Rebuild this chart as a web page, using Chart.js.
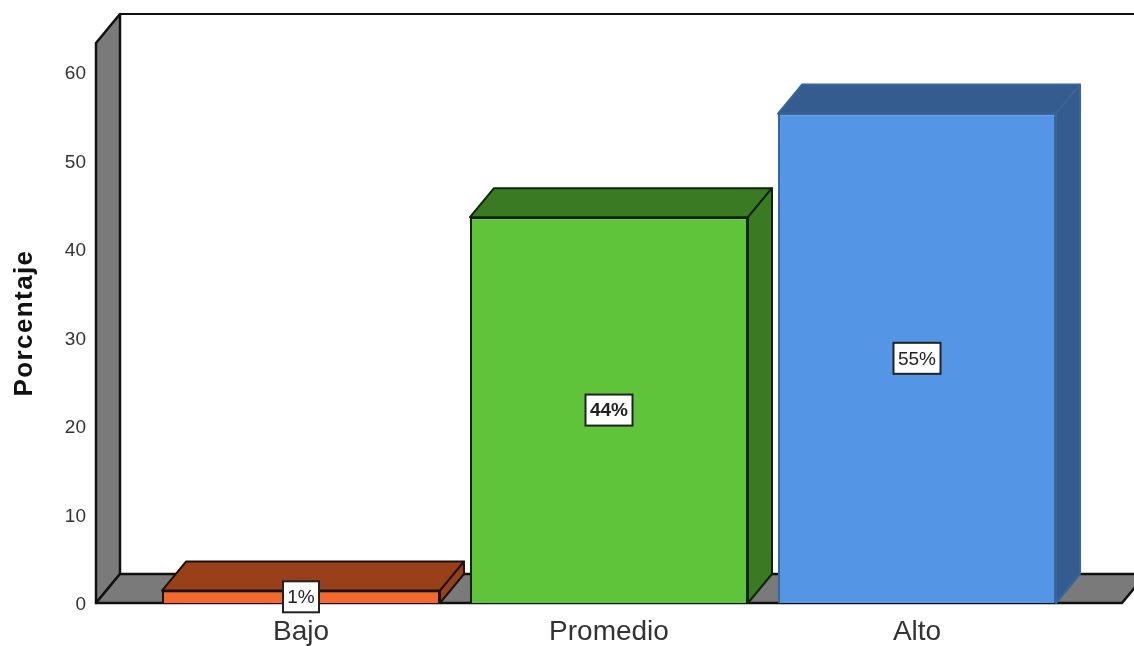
<!DOCTYPE html>
<html>
<head>
<meta charset="utf-8">
<title>Porcentaje</title>
<script src="https://cdn.jsdelivr.net/npm/chart.js@4"></script>
<style>
    html, body { margin: 0; padding: 0; background: #fff; }
    canvas { display: block; }
</style>
</head>
<body>
<canvas id="barChart" width="1134" height="646"></canvas>
<script>
// --- DATA ---
const categories = ['Bajo', 'Promedio', 'Alto'];
const porcentajes = [1.4, 43.6, 55.3];
const etiquetas = ['1%', '44%', '55%'];
const yTicks = [0, 10, 20, 30, 40, 50, 60];

// --- STYLES ---
const frontColors = ['#f4692b', '#5fc43a', '#5595e6'];
const depthColors = ['#97401a', '#3a7a22', '#345c8f'];
const lineColors = ['#1c1208', '#10240a', '#38659c'];
const labelWeights = ['normal', 'bold', 'normal'];
const WALL = '#7a7a7a';
const DEPTH_X = 24;
const DEPTH_Y = 29;
const FLOOR_EXTRA = 51; // floor runs past the first and last category

function poly(ctx, pts, fill, stroke, width) {
    ctx.beginPath();
    pts.forEach((p, i) => i ? ctx.lineTo(p[0], p[1]) : ctx.moveTo(p[0], p[1]));
    ctx.closePath();
    ctx.fillStyle = fill;
    ctx.fill();
    ctx.lineWidth = width;
    ctx.strokeStyle = stroke;
    ctx.lineJoin = 'round';
    ctx.stroke();
}

// Back wall, floor and the depth faces of the bars
const box3d = {
    id: 'box3d',
    beforeDatasetsDraw(chart) {
        const { ctx, chartArea: a, width } = chart;
        const l = a.left - FLOOR_EXTRA;
        const r = a.right + FLOOR_EXTRA;
        ctx.save();
        poly(ctx, [[l, a.top], [l + DEPTH_X, a.top - DEPTH_Y], [l + DEPTH_X, a.bottom - DEPTH_Y], [l, a.bottom]], WALL, '#111', 2.5);
        poly(ctx, [[l, a.bottom], [r, a.bottom], [r + DEPTH_X, a.bottom - DEPTH_Y], [l + DEPTH_X, a.bottom - DEPTH_Y]], WALL, '#111', 2.5);
        ctx.beginPath();
        ctx.moveTo(l + DEPTH_X, a.top - DEPTH_Y);
        ctx.lineTo(width, a.top - DEPTH_Y);
        ctx.strokeStyle = '#111';
        ctx.lineWidth = 2;
        ctx.stroke();

        chart.getDatasetMeta(0).data.forEach((bar, i) => {
            const x0 = bar.x - bar.width / 2;
            const x1 = bar.x + bar.width / 2;
            const top = bar.y;
            const base = bar.base;
            poly(ctx, [[x0, top], [x1, top], [x1 + DEPTH_X, top - DEPTH_Y], [x0 + DEPTH_X, top - DEPTH_Y]], depthColors[i], lineColors[i], 2);
            poly(ctx, [[x1, top], [x1 + DEPTH_X, top - DEPTH_Y], [x1 + DEPTH_X, base - DEPTH_Y], [x1, base]], depthColors[i], lineColors[i], 2);
        });
        ctx.restore();
    },
    afterDatasetsDraw(chart) {
        const { ctx } = chart;
        ctx.save();
        chart.getDatasetMeta(0).data.forEach((bar, i) => {
            const cy = (bar.y + bar.base) / 2;
            const text = etiquetas[i];
            ctx.font = labelWeights[i] + ' 19px "Liberation Sans"';
            const w = text.length > 2 ? 47 : 36;
            const h = 31;
            ctx.fillStyle = '#fff';
            ctx.strokeStyle = '#222';
            ctx.lineWidth = 2;
            ctx.fillRect(bar.x - w / 2, cy - h / 2, w, h);
            ctx.strokeRect(bar.x - w / 2, cy - h / 2, w, h);
            ctx.fillStyle = '#222';
            ctx.textAlign = 'center';
            ctx.textBaseline = 'middle';
            ctx.fillText(text, bar.x, cy + 1);
        });
        ctx.restore();
    }
};

// --- CHART ---
new Chart(document.getElementById('barChart').getContext('2d'), {
    type: 'bar',
    data: {
        labels: categories,
        datasets: [{
            label: 'Porcentaje',
            data: porcentajes,
            backgroundColor: frontColors,
            borderColor: lineColors,
            borderWidth: 2,
            categoryPercentage: 1,
            barPercentage: 0.9026
        }]
    },
    plugins: [box3d],
    options: {
        responsive: false,
        animation: false,
        layout: { padding: { top: 43, right: 63, bottom: 0, left: 0 } },
        plugins: { legend: { display: false }, tooltip: { enabled: false } },
        scales: {
            x: {
                grid: { display: false, drawTicks: false },
                border: { display: false },
                afterFit(scale) {
                    scale.height = 43;
                    scale.paddingLeft = 0;
                    scale.paddingRight = 0;
                },
                ticks: { color: '#333', padding: 12, font: { family: '"Liberation Sans"', size: 28 } }
            },
            y: {
                min: 0,
                max: 63.28,
                afterBuildTicks(scale) { scale.ticks = yTicks.map(v => ({ value: v })); },
                afterFit(scale) {
                    scale.width = 147;
                    scale.paddingTop = 0;
                    scale.paddingBottom = 0;
                    // the axis title is wider spaced than the font gives
                    const drawTitle = scale.drawTitle;
                    scale.drawTitle = function () {
                        scale.ctx.letterSpacing = '1.4px';
                        drawTitle.call(scale);
                        scale.ctx.letterSpacing = '0px';
                    };
                },
                grid: { display: false, drawTicks: false },
                border: { display: false },
                ticks: { color: '#333', padding: 61, labelOffset: 2, font: { family: '"Liberation Sans"', size: 19 } },
                title: {
                    display: true,
                    text: 'Porcentaje',
                    color: '#111',
                    padding: { top: 9, bottom: 0 },
                    font: { family: '"Liberation Sans"', size: 26, weight: 'bold' }
                }
            }
        }
    }
});
</script>
</body>
</html>
